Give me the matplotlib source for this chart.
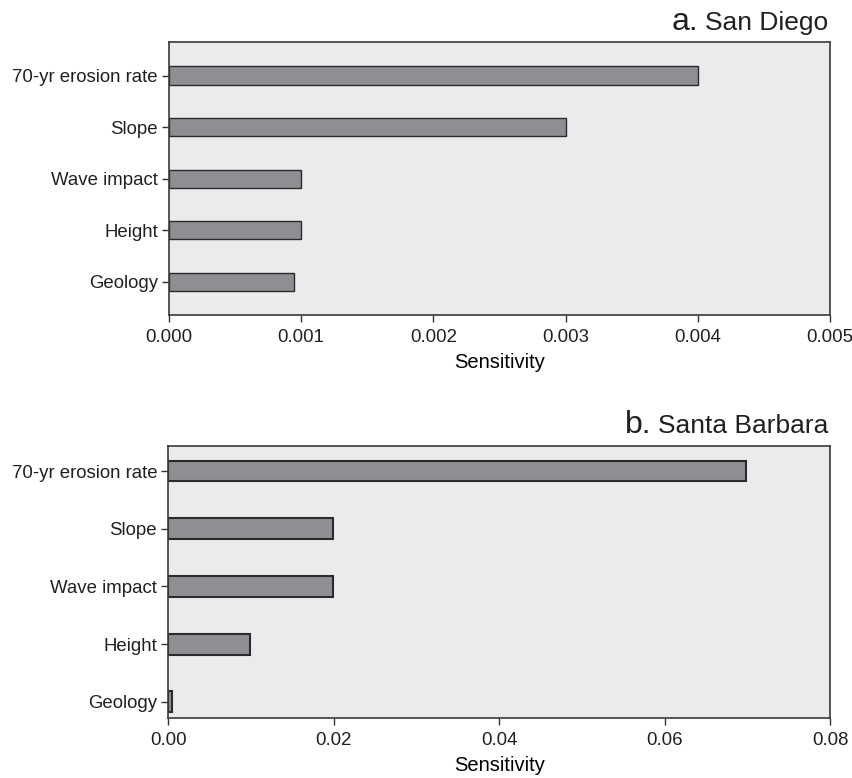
#!/usr/bin/env python3
"""
Sensitivity of cliff-retreat factors, San Diego vs Santa Barbara
"""

import numpy as np
import matplotlib
matplotlib.use("Agg")
import matplotlib.pyplot as plt
from matplotlib.transforms import offset_copy

# ── data ───────────────────────────────────────────────
factors = ["70-yr erosion rate", "Slope", "Wave impact", "Height", "Geology"]
sd_sens = [0.0040, 0.0030, 0.0010, 0.0010, 0.00095]
sb_sens = [0.0698, 0.0199, 0.0199, 0.0099, 0.0004]

sd_ticks = [0.000, 0.001, 0.002, 0.003, 0.004, 0.005]
sb_ticks = [0.00, 0.02, 0.04, 0.06, 0.08]

# ── colours ────────────────────────────────────────────
C_BG   = "#EBEBED"
C_BAR  = "#8E8F92"
C_EDGE = "#2B2B2B"
C_TXT  = "#231F20"

plt.rcParams["font.family"] = ["Liberation Sans", "DejaVu Sans"]
plt.rcParams["text.color"] = C_TXT
plt.rcParams["xtick.color"] = C_TXT
plt.rcParams["ytick.color"] = C_TXT

fig = plt.figure(figsize=(8.53, 7.78), dpi=100)
ax_a = fig.add_axes([0.198, 0.595, 0.775, 0.351])
ax_b = fig.add_axes([0.1973, 0.0771, 0.7757, 0.350])


def draw_panel(ax, values, ticks, fmt, ylim, bar_h, edge_lw):
    y = np.arange(len(factors))
    ax.set_facecolor(C_BG)
    ax.barh(y, values, height=bar_h, color=C_BAR, edgecolor=C_EDGE,
            linewidth=edge_lw, zorder=2)
    ax.set_yticks(y)
    ax.set_yticklabels(factors)
    ax.set_ylim(*ylim)
    ax.set_xlim(ticks[0], ticks[-1])
    ax.set_xticks(ticks)
    ax.set_xticklabels([fmt.format(t) for t in ticks])
    ax.tick_params(axis="both", labelsize=13.4, length=5, width=1.0,
                   color="#333333", pad=3)
    ax.tick_params(axis="x", pad=5)
    for sp in ax.spines.values():
        sp.set_color("#3A3A3A")
        sp.set_linewidth(1.2)
    ax.set_xlabel("Sensitivity", fontsize=14.5, labelpad=5)


draw_panel(ax_a, sd_sens, sd_ticks, "{:.3f}", (4.65, -0.65), 0.35, 1.0)
draw_panel(ax_b, sb_sens, sb_ticks, "{:.2f}", (4.28, -0.44), 0.36, 1.5)


def panel_title(ax, letter, name):
    t = ax.text(1.0, 1.0, name, transform=offset_copy(ax.transAxes, fig=fig,
                x=-1, y=9, units="points"),
                ha="right", va="baseline", fontsize=19)
    fig.canvas.draw()
    bb = t.get_window_extent(fig.canvas.get_renderer())
    x0 = ax.transAxes.inverted().transform((bb.x0, bb.y0))[0]
    ax.text(x0, 1.0, letter, transform=offset_copy(ax.transAxes, fig=fig,
            x=-5, y=9, units="points"),
            ha="right", va="baseline", fontsize=23)


panel_title(ax_a, "a.", "San Diego")
panel_title(ax_b, "b.", "Santa Barbara")

fig.savefig("out.png", dpi=100)
